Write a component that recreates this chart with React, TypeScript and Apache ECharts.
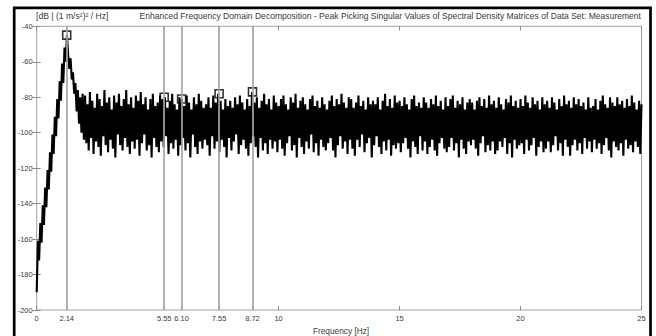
import { useEffect, useRef } from 'react';
import * as echarts from 'echarts';

// Frequency grid step of the spectrum samples [Hz]
const FREQ_STEP = 0.05;

// Peak-picked singular value spectrum [dB], one value every FREQ_STEP Hz from 0 to 25 Hz (20 values per Hz row)
const spectrumDb = [
  -190, -161, -172, -151, -162, -141, -152, -131, -142, -121, -132, -111, -122, -101, -112, -91, -102, -81, -92, -71,
  -82, -61, -72, -52, -60, -45, -56, -64, -58, -70, -66, -78, -72, -88, -76, -95, -80, -100, -78, -104,
  -79, -106, -84, -110, -77, -103, -82, -112, -86, -105, -78, -108, -81, -113, -85, -102, -76, -107, -83, -111,
  -80, -104, -87, -109, -79, -114, -83, -101, -78, -107, -85, -110, -81, -103, -76, -108, -84, -112, -80, -105,
  -86, -109, -79, -104, -82, -113, -77, -106, -84, -101, -80, -110, -87, -107, -81, -114, -78, -103, -85, -108,
  -83, -111, -79, -105, -81, -108, -80, -102, -86, -112, -82, -106, -78, -109, -84, -104, -87, -113, -80, -107,
  -81, -103, -85, -110, -79, -106, -83, -114, -87, -101, -80, -108, -84, -112, -78, -105, -82, -109, -86, -104,
  -84, -107, -80, -113, -86, -102, -79, -109, -83, -105, -78, -111, -82, -104, -87, -108, -81, -114, -85, -103,
  -82, -110, -86, -105, -80, -101, -84, -112, -79, -107, -83, -104, -87, -109, -81, -113, -85, -106, -77, -102,
  -83, -108, -80, -114, -86, -103, -82, -110, -78, -106, -84, -112, -81, -104, -87, -109, -79, -105, -83, -111,
  -85, -104, -81, -109, -79, -113, -84, -106, -87, -102, -80, -110, -83, -107, -78, -114, -86, -103, -82, -108,
  -80, -112, -84, -105, -87, -109, -81, -101, -79, -111, -85, -106, -82, -113, -86, -104, -80, -108, -84, -110,
  -87, -106, -82, -103, -79, -110, -85, -114, -81, -107, -84, -102, -78, -109, -83, -105, -86, -112, -80, -104,
  -81, -109, -86, -113, -83, -104, -79, -108, -85, -101, -82, -111, -87, -106, -80, -103, -84, -114, -82, -107,
  -84, -102, -80, -108, -87, -112, -82, -105, -78, -110, -85, -104, -81, -113, -86, -107, -79, -109, -83, -106,
  -82, -111, -85, -106, -80, -103, -84, -109, -87, -114, -81, -105, -79, -108, -85, -112, -83, -102, -86, -110,
  -80, -105, -83, -112, -86, -108, -81, -104, -84, -110, -79, -113, -85, -106, -82, -103, -87, -109, -80, -111,
  -85, -108, -81, -103, -79, -110, -86, -106, -82, -114, -84, -104, -80, -109, -87, -112, -83, -105, -81, -107,
  -83, -104, -87, -109, -82, -113, -80, -106, -85, -102, -81, -111, -86, -107, -79, -110, -84, -105, -82, -112,
  -86, -110, -80, -105, -84, -108, -87, -103, -81, -112, -83, -106, -79, -114, -85, -104, -82, -109, -86, -107,
  -81, -106, -85, -112, -79, -104, -83, -110, -86, -107, -80, -103, -84, -113, -82, -108, -87, -105, -80, -111,
  -84, -109, -82, -105, -86, -111, -80, -107, -83, -102, -87, -110, -81, -106, -85, -113, -79, -104, -84, -108,
  -82, -113, -86, -107, -80, -104, -84, -110, -81, -106, -85, -112, -83, -103, -87, -109, -80, -105, -86, -111,
  -85, -104, -81, -109, -87, -106, -82, -112, -79, -107, -84, -103, -86, -110, -80, -114, -83, -105, -85, -108,
  -80, -110, -84, -106, -82, -113, -86, -104, -81, -109, -85, -107, -79, -111, -83, -105, -87, -108, -82, -112,
  -84,
];

// Picked peaks: position on the drawn frequency axis, printed label, and peak level [dB]
const peakFreqs = [1.24, 5.27, 5.99, 7.54, 8.92];
const peakLabels = ['2.14', '5.55', '6.10', '7.55', '8.72'];
const peakDb = [-45, -80, -81, -78, -77];

// X-axis ticks (positions and printed labels)
const xTickValues = [0, 1.24, 5.27, 5.99, 7.54, 8.92, 10, 15, 20, 25];
const xTickLabels = ['0', ...peakLabels, '10', '15', '20', '25'];

const Y_MIN = -200;
const Y_MAX = -40;
const Y_STEP = 20;

const TITLE =
  'Enhanced Frequency Domain Decomposition - Peak Picking Singular Values of Spectral Density Matrices of Data Set: Measurement';
const Y_UNIT = '[dB | (1 m/s\u00B2)\u00B2 / Hz]';
const X_NAME = 'Frequency [Hz]';

const FONT = '"Liberation Sans", Arial, sans-serif';

export default function App() {
  const ref = useRef<HTMLDivElement>(null);

  useEffect(() => {
    if (!ref.current) return;
    const chart = echarts.init(ref.current, undefined, { renderer: 'svg' });

    const spectrum = spectrumDb.map((v, i) => [+(i * FREQ_STEP).toFixed(2), v]);
    const peaks = peakFreqs.map((f, i) => [f, peakDb[i]]);
    const fmtX = (v: number) => {
      const i = xTickValues.findIndex((t) => Math.abs(t - v) < 1e-6);
      return i >= 0 ? xTickLabels[i] : '';
    };

    const tickStyle = { color: '#8a8a8a', width: 1 };
    const labelStyle = { fontSize: 7.5, color: '#3a3a3a', fontFamily: FONT };

    chart.setOption({
      animation: false,
      backgroundColor: '#ffffff',
      grid: {
        left: 36.7,
        right: 14.5,
        top: 26.3,
        bottom: 26,
        show: true,
        borderColor: '#a0a0a0',
        borderWidth: 1,
        backgroundColor: 'transparent',
      },
      xAxis: [
        {
          type: 'value',
          min: 0,
          max: 25,
          position: 'bottom',
          axisLine: { show: false },
          splitLine: { show: false },
          axisTick: { inside: true, length: 4, customValues: xTickValues, lineStyle: tickStyle },
          axisLabel: { ...labelStyle, customValues: xTickValues, formatter: fmtX, margin: 4, hideOverlap: false },
        },
        {
          type: 'value',
          min: 0,
          max: 25,
          position: 'top',
          axisLine: { show: false },
          splitLine: { show: false },
          axisTick: { inside: true, length: 4, customValues: xTickValues, lineStyle: tickStyle },
          axisLabel: { show: false },
        },
      ],
      yAxis: [
        {
          type: 'value',
          min: Y_MIN,
          max: Y_MAX,
          interval: Y_STEP,
          position: 'left',
          axisLine: { show: false },
          splitLine: { show: false },
          axisTick: { inside: true, length: 4, lineStyle: tickStyle },
          axisLabel: { ...labelStyle, margin: 4 },
        },
        {
          type: 'value',
          min: Y_MIN,
          max: Y_MAX,
          interval: Y_STEP,
          position: 'right',
          axisLine: { show: false },
          splitLine: { show: false },
          axisTick: { inside: true, length: 4, lineStyle: tickStyle },
          axisLabel: { show: false },
        },
      ],
      series: [
        {
          name: 'peakLines',
          type: 'line',
          xAxisIndex: 0,
          yAxisIndex: 0,
          data: [],
          z: 1,
          markLine: {
            silent: true,
            symbol: 'none',
            animation: false,
            label: { show: false },
            lineStyle: { color: '#a6a6a6', width: 1.7, type: 'solid' },
            data: peakFreqs.map((f) => ({ xAxis: f })),
          },
        },
        {
          name: 'spectrum',
          type: 'line',
          xAxisIndex: 0,
          yAxisIndex: 0,
          data: spectrum,
          showSymbol: false,
          symbol: 'none',
          lineStyle: { color: '#000000', width: 2.1, join: 'bevel' },
          z: 3,
          silent: true,
        },
        {
          name: 'peaks',
          type: 'scatter',
          xAxisIndex: 0,
          yAxisIndex: 0,
          data: peaks,
          symbol: 'rect',
          symbolSize: 8,
          itemStyle: { color: 'rgba(0,0,0,0)', borderColor: '#000000', borderWidth: 1.6 },
          z: 4,
          silent: true,
        },
      ],
      graphic: [
        {
          type: 'text',
          x: 48,
          y: -11.5,
          silent: true,
          style: {
            text: 'peak picking',
            font: 'bold 18px "Liberation Serif", serif',
            fill: '#000000',
            verticalAlign: 'middle',
            align: 'left',
          },
        },
        {
          type: 'rect',
          silent: true,
          shape: { x: 14.2, y: 7.8, width: 636.3, height: 400 },
          style: { fill: 'none', stroke: '#000000', lineWidth: 2.7 },
        },
        {
          type: 'text',
          x: 36,
          y: 16,
          silent: true,
          style: {
            text: Y_UNIT,
            font: `8.6px ${FONT}`,
            fill: '#3a3a3a',
            align: 'left',
            verticalAlign: 'middle',
          },
        },
        {
          type: 'text',
          x: 641,
          y: 16,
          silent: true,
          style: {
            text: TITLE,
            font: `8.55px ${FONT}`,
            fill: '#3a3a3a',
            align: 'right',
            verticalAlign: 'middle',
          },
        },
        {
          type: 'text',
          x: 341,
          y: 330.5,
          silent: true,
          style: {
            text: X_NAME,
            font: `8.3px ${FONT}`,
            fill: '#3a3a3a',
            align: 'center',
            verticalAlign: 'middle',
          },
        },
      ],
    });

    return () => chart.dispose();
  }, []);

  return (
    <div
      ref={ref}
      style={{ position: 'fixed', left: 0, top: 0, width: 656, height: 336, background: '#fff' }}
    />
  );
}
